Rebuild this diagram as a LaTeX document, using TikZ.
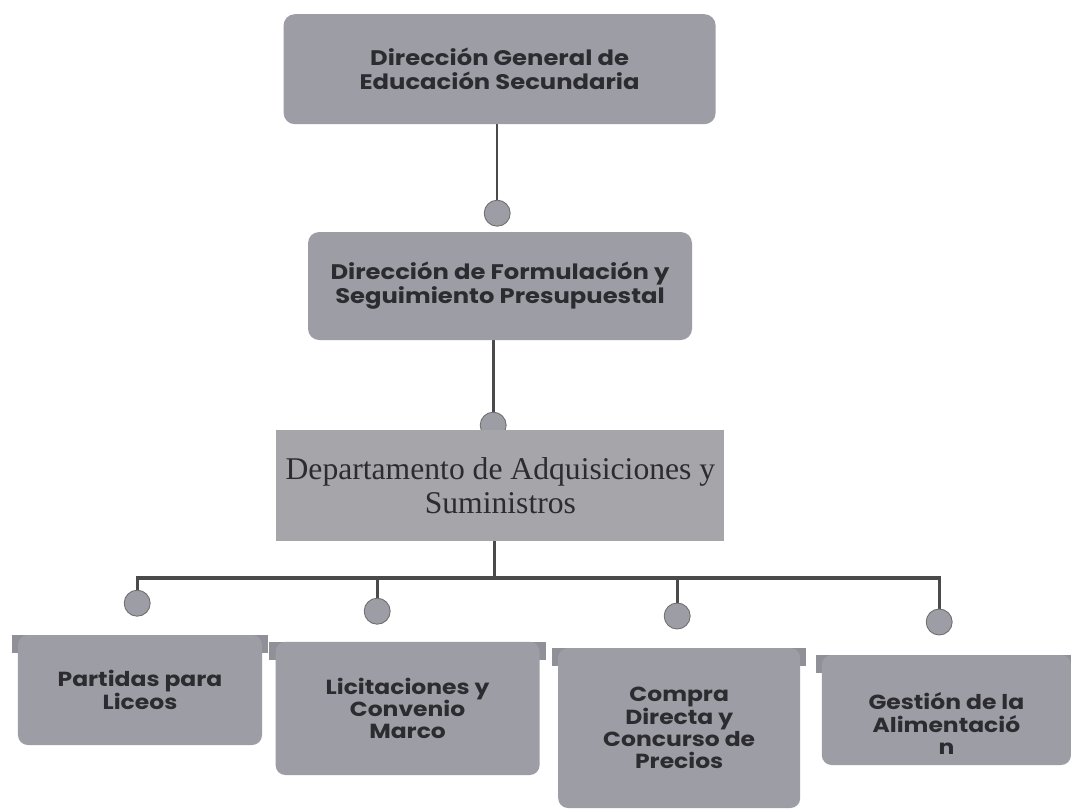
\documentclass[tikz,border=0pt]{standalone}
\usepackage{fontspec}
\setmainfont{Poppins}
\newfontfamily\boxfont[FakeStretch=1.15]{Poppins}
\newfontfamily\deptfont{Liberation Serif}
\usepackage{tikz}
\usetikzlibrary{calc,backgrounds}
\definecolor{boxgray}{HTML}{9D9DA5}
\definecolor{deptgray}{HTML}{A6A6AA}
\definecolor{linegray}{HTML}{4A4A4A}
\definecolor{txtgray}{HTML}{2C2C30}

\begin{document}
\begin{tikzpicture}[
    dirbox/.style={fill=boxgray, rounded corners=8pt, align=center, text=txtgray, font=\boxfont\fontsize{15}{17}\selectfont\bfseries},
    deptbox/.style={fill=deptgray, align=center, text=txtgray, font=\deptfont\fontsize{22.5}{24.5}\selectfont},
    unitbox/.style={fill=boxgray, rounded corners=7pt, align=center, text=txtgray, font=\boxfont\fontsize{14.5}{15.8}\selectfont\bfseries},
    joint/.style={circle, fill=boxgray, draw=gray!85!black, line width=0.6pt, minimum size=0.65cm, inner sep=0pt},
    con/.style={draw=linegray, line width=2.4pt},
    thincon/.style={draw=linegray, line width=1.1pt}
]
\useasboundingbox (0,0) rectangle (26.775,-20.25);

% levels above
\node[dirbox, minimum width=10.8cm, minimum height=2.75cm] (dges) at (12.49,-1.73) {Dirección General de\\Educación Secundaria};
\node[joint] (j0) at (12.43,-5.33) {};
\node[dirbox, minimum width=9.6cm, minimum height=2.7cm] (dfsp) at (12.5,-7.15) {Dirección de Formulación y\\Seguimiento Presupuestal};
\node[joint] (j1) at (12.33,-10.63) {};
\node[deptbox, minimum width=11.2cm, minimum height=2.78cm] (das) at (12.51,-12.14) {Departamento de Adquisiciones y\\Suministros};

% units
\node[joint] (j2) at (3.43,-15.08) {};
\node[joint] (j3) at (9.43,-15.28) {};
\node[joint] (j4) at (16.93,-15.4) {};
\node[joint] (j5) at (23.48,-15.55) {};
\node[unitbox, minimum width=6.1cm, minimum height=2.75cm] (pl) at (3.5,-17.25) {Partidas para\\Liceos};
\node[unitbox, minimum width=6.6cm, minimum height=3.33cm] (lcm) at (10.19,-17.71) {Licitaciones y\\Convenio\\Marco};
\node[unitbox, minimum width=6.05cm, minimum height=4.0cm] (cdp) at (16.98,-18.2) {Compra\\Directa y\\Concurso de\\Precios};
\node[unitbox, minimum width=6.23cm, minimum height=2.75cm] (ga) at (23.66,-17.75) {\rule{0pt}{1.1cm}Gestión de la\\Alimentació\\n};

\coordinate (bar) at (12.37,-14.45);

\begin{scope}[on background layer]
\fill[white] (0,0) rectangle (26.775,-20.25);
\draw[thincon] (j0) -- (j0 |- dges.south);
\draw[con] (j1) -- (j1 |- dfsp.south);
\draw[con] (bar) -- (bar |- das.south);
\draw[con] (j2) |- (bar) -| (j5);
\draw[con] (j3) -- (j3 |- bar);
\draw[con] (j4) -- (j4 |- bar);
% tabs on the unit boxes
\foreach \u in {pl,lcm,cdp,ga}
  \fill[boxgray!92!black] ($(\u.north west)+(-0.15,0)$) rectangle ($(\u.north east)+(0.15,-0.45)$);
\end{scope}
\end{tikzpicture}
\end{document}
